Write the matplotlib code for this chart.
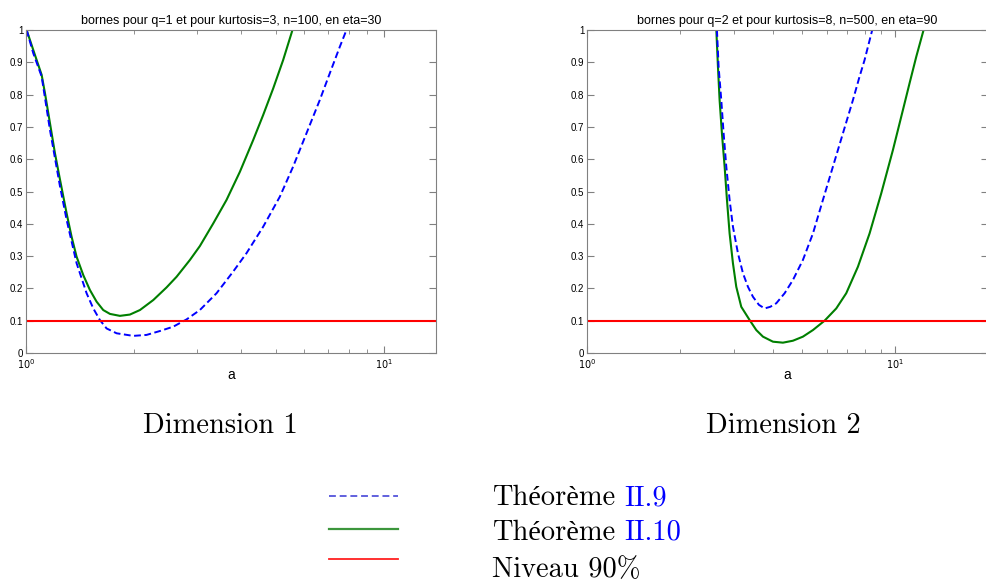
import matplotlib.pyplot as plt

plt.rcParams['font.family'] = ['Liberation Sans', 'DejaVu Sans']

# Dimension 1 : q=1, kurtosis=3, n=100, eta=30
a1_thm9 = [1.004, 1.048, 1.106, 1.167, 1.245, 1.299, 1.385, 1.477, 1.542, 1.609, 1.680, 1.792,
           1.994, 2.173, 2.367, 2.580, 2.811, 3.062, 3.409, 3.794, 4.134, 4.603, 5.124, 5.581,
           6.081, 6.625, 7.067, 7.537, 7.867]
v1_thm9 = [1.0, 0.928, 0.856, 0.690, 0.515, 0.412, 0.278, 0.185, 0.138, 0.102, 0.076, 0.061,
           0.053, 0.056, 0.068, 0.0815, 0.104, 0.133, 0.185, 0.252, 0.309, 0.391, 0.484, 0.577,
           0.680, 0.783, 0.866, 0.948, 1.0]
a1_thm10 = [1.004, 1.048, 1.106, 1.130, 1.167, 1.205, 1.245, 1.299, 1.341, 1.385, 1.446, 1.509,
            1.575, 1.644, 1.717, 1.830, 1.952, 2.082, 2.269, 2.471, 2.636, 2.872, 3.062, 3.337,
            3.636, 3.962, 4.315, 4.603, 4.909, 5.234, 5.558]
v1_thm10 = [1.0, 0.938, 0.861, 0.804, 0.711, 0.618, 0.536, 0.432, 0.360, 0.298, 0.241, 0.195,
            0.159, 0.133, 0.121, 0.115, 0.119, 0.133, 0.164, 0.203, 0.236, 0.288, 0.331, 0.401,
            0.474, 0.561, 0.659, 0.737, 0.819, 0.907, 1.0]

# Dimension 2 : q=2, kurtosis=8, n=500, eta=90
a2_thm9 = [2.640, 2.673, 2.727, 2.775, 2.831, 2.902, 2.975, 3.088, 3.206, 3.328, 3.455, 3.613,
           3.769, 3.932, 4.113, 4.377, 4.657, 5.018, 5.408, 5.827, 6.279, 6.766, 7.291, 7.662,
           7.953, 8.422]
v2_thm9 = [1.0, 0.886, 0.783, 0.680, 0.577, 0.474, 0.391, 0.309, 0.247, 0.205, 0.174, 0.149,
           0.138, 0.143, 0.154, 0.185, 0.226, 0.288, 0.370, 0.474, 0.577, 0.680, 0.783, 0.856,
           0.907, 1.0]
a2_thm10 = [2.628, 2.660, 2.693, 2.740, 2.796, 2.845, 2.902, 2.975, 3.050, 3.166, 3.370, 3.542,
            3.723, 4.012, 4.322, 4.657, 5.018, 5.408, 5.899, 6.438, 6.936, 7.568, 8.256, 9.007,
            9.827, 10.59, 11.13, 11.70, 12.36]
v2_thm10 = [1.0, 0.886, 0.783, 0.680, 0.577, 0.474, 0.370, 0.278, 0.205, 0.143, 0.102, 0.071,
            0.0506, 0.035, 0.032, 0.038, 0.0506, 0.071, 0.100, 0.138, 0.185, 0.267, 0.370, 0.494,
            0.628, 0.752, 0.835, 0.917, 1.0]

niveau = 0.1
titres = ['bornes pour q=1 et pour kurtosis=3, n=100, en eta=30',
          'bornes pour q=2 et pour kurtosis=8, n=500, en eta=90']
legendes = [('Théorème', 'II.9'), ('Théorème', 'II.10'), ('Niveau 90%', '')]

fig = plt.figure(figsize=(9.87, 5.80), dpi=100, facecolor='white')

ax1 = fig.add_axes([26/987, 227/580, 410/987, 323/580])
ax2 = fig.add_axes([587/987, 227/580, 401/987, 323/580])

donnees = [(ax1, a1_thm9, v1_thm9, a1_thm10, v1_thm10, 14),
           (ax2, a2_thm9, v2_thm9, a2_thm10, v2_thm10, 20)]

for i, (ax, ab, vb, ag, vg, xmax) in enumerate(donnees):
    ax.plot(ag, vg, color='#007f00', lw=1.5)
    ax.plot(ab, vb, color='#0000ff', lw=1.4, ls=(0, (3.5, 1.8)))
    ax.axhline(niveau, color='#ff0000', lw=1.5)
    ax.set_xscale('log')
    ax.set_xlim(1, xmax)
    ax.set_ylim(0, 1)
    ax.set_yticks([k / 10 for k in range(11)])
    ax.set_yticklabels(['0'] + ['0.%d' % k for k in range(1, 10)] + ['1'])
    ax.set_xticks([1, 10])
    ax.set_xticklabels(['$10^0$', '$10^1$'])
    for lab in ax.get_xticklabels():
        lab.set_math_fontfamily('dejavusans')
    ax.tick_params(which='both', direction='in', top=True, right=True,
                   color='#808080', labelsize=7, pad=2)
    ax.tick_params(axis='x', pad=3)
    ax.tick_params(which='major', length=5)
    ax.tick_params(which='minor', length=3)
    for sp in ax.spines.values():
        sp.set_color('#808080')
        sp.set_linewidth(0.8)
    ax.set_title(titres[i], fontsize=9, pad=4)
    ax.set_xlabel('a', fontsize=10)
    ax.xaxis.set_label_coords(0.5, -0.045)

# Légendes sous les graphes (cmr10 n'a pas é/è : repli sur une serif fine)
polices = ['cmr10', 'Liberation Serif']
fig.text(220/987, 1 - 433/580, 'Dimension 1', family=polices, fontsize=20.5,
         ha='center', va='baseline')
fig.text(783/987, 1 - 433/580, 'Dimension 2', family=polices, fontsize=20.5,
         ha='center', va='baseline')

styles = [dict(color='#3535d5', lw=1.1, ls=(0, (4.5, 2.5))),
          dict(color='#3c963c', lw=1.6, ls='-'),
          dict(color='#ff2020', lw=1.3, ls='-')]
y_lignes = [496, 529, 559]
y_textes = [505, 540, 577]

renderer = fig.canvas.get_renderer()
for (noir, bleu), st, yl, yt in zip(legendes, styles, y_lignes, y_textes):
    fig.add_artist(plt.Line2D([329/987, 398/987], [1 - yl/580, 1 - yl/580],
                              transform=fig.transFigure, **st))
    t = fig.text(492/987, 1 - yt/580, noir, family=polices, fontsize=20.5,
                 va='baseline')
    if bleu:
        bb = t.get_window_extent(renderer)
        fig.text((bb.x1 + 9) / fig.bbox.width, 1 - yt/580, bleu, family=polices,
                 fontsize=20.5, color='#0000ff', va='baseline')

plt.savefig('out.png', dpi=100, facecolor='white')
